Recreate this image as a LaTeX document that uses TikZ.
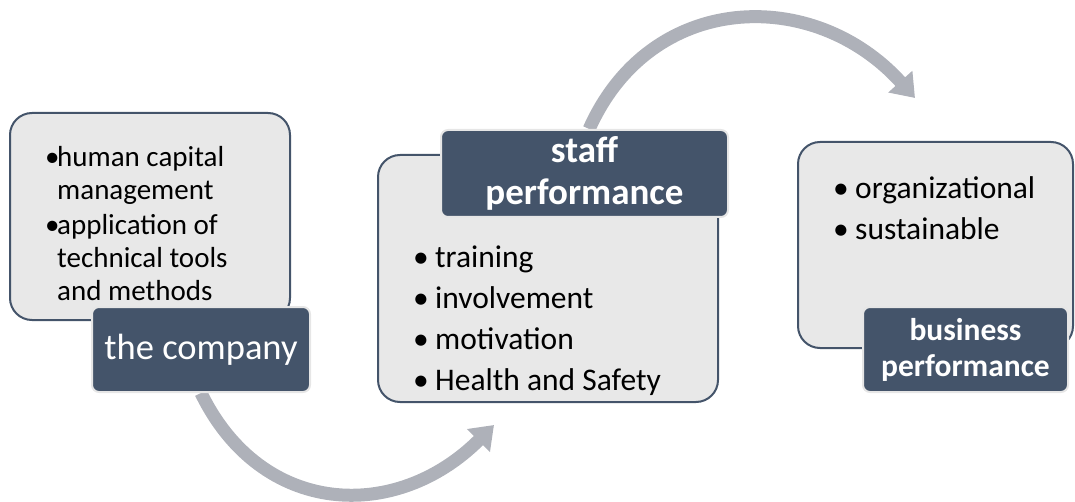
\documentclass[tikz,border=0pt]{standalone}
\usepackage{fontspec}
\setmainfont{Carlito}
\usetikzlibrary{arrows.meta,backgrounds}

\newcommand{\hbul}[1]{\makebox[#1][l]{•}}

\begin{document}
\begin{tikzpicture}[x=1pt,y=1pt,
    infobox/.style={shape=rectangle,draw=hdark,line width=2pt,fill=hlight,rounded corners=22pt},
    titlebox/.style={shape=rectangle,draw=hrim,line width=2pt,fill=hdark,rounded corners=7pt,text=white,align=center},
    itemlist/.style={anchor=base west,align=left,inner sep=0pt},
    flow/.style={draw=hflow,line width=13pt,-{Triangle[length=22pt,width=31pt]}}]
    \definecolor{hdark}{RGB}{68,84,106}
    \definecolor{hlight}{RGB}{232,232,232}
    \definecolor{hrim}{RGB}{230,230,230}
    \definecolor{hflow}{RGB}{174,177,185}
    \useasboundingbox (0,0) rectangle (1075,-502);
    \node[infobox,minimum width=280pt,minimum height=207pt] (box1) at (150,-216.5) {};
    \node[infobox,minimum width=340pt,minimum height=247pt] (box2) at (548,-278.5) {};
    \node[infobox,minimum width=275pt,minimum height=206pt] (box3) at (935.5,-245) {};
    \node[itemlist,font=\fontsize{29}{33}\selectfont] (list1) at (45,-301)
        {\hbul{12pt}human capital\\\hspace*{12pt}management\\[2pt]\hbul{12pt}application of\\\hspace*{12pt}technical tools\\\hspace*{12pt}and methods};
    \node[itemlist,font=\fontsize{31.5}{41}\selectfont] (list2) at (413,-390)
        {\hbul{22pt}training\\\hbul{22pt}involvement\\\hbul{22pt}motivation\\\hbul{22pt}Health and Safety};
    \node[itemlist,font=\fontsize{31.5}{41}\selectfont] (list3) at (833,-240)
        {\hbul{22pt}organizational\\\hbul{22pt}sustainable};
    \node[titlebox,minimum width=218pt,minimum height=85pt,font=\fontsize{36.5}{44}\selectfont] (lab1) at (201,-349.5) {the company};
    \node[titlebox,minimum width=287pt,minimum height=87pt,font=\bfseries\fontsize{37}{42}\selectfont] (lab2) at (584.5,-173.5) {staff\\performance};
    \node[titlebox,minimum width=205pt,minimum height=85pt,font=\bfseries\fontsize{31.5}{36}\selectfont] (lab3) at (965.5,-349.5) {business\\performance};
    \coordinate (tip1) at (494,-425);
    \coordinate (tip2) at (915,-98);
    \begin{scope}[on background layer]
    \draw[flow] (lab1.south) to[out=-64,in=225,looseness=1.2] (tip1);
    \draw[flow] (lab2.84) to[out=66,in=132,looseness=1.18] (tip2);
    \end{scope}
\end{tikzpicture}
\end{document}
